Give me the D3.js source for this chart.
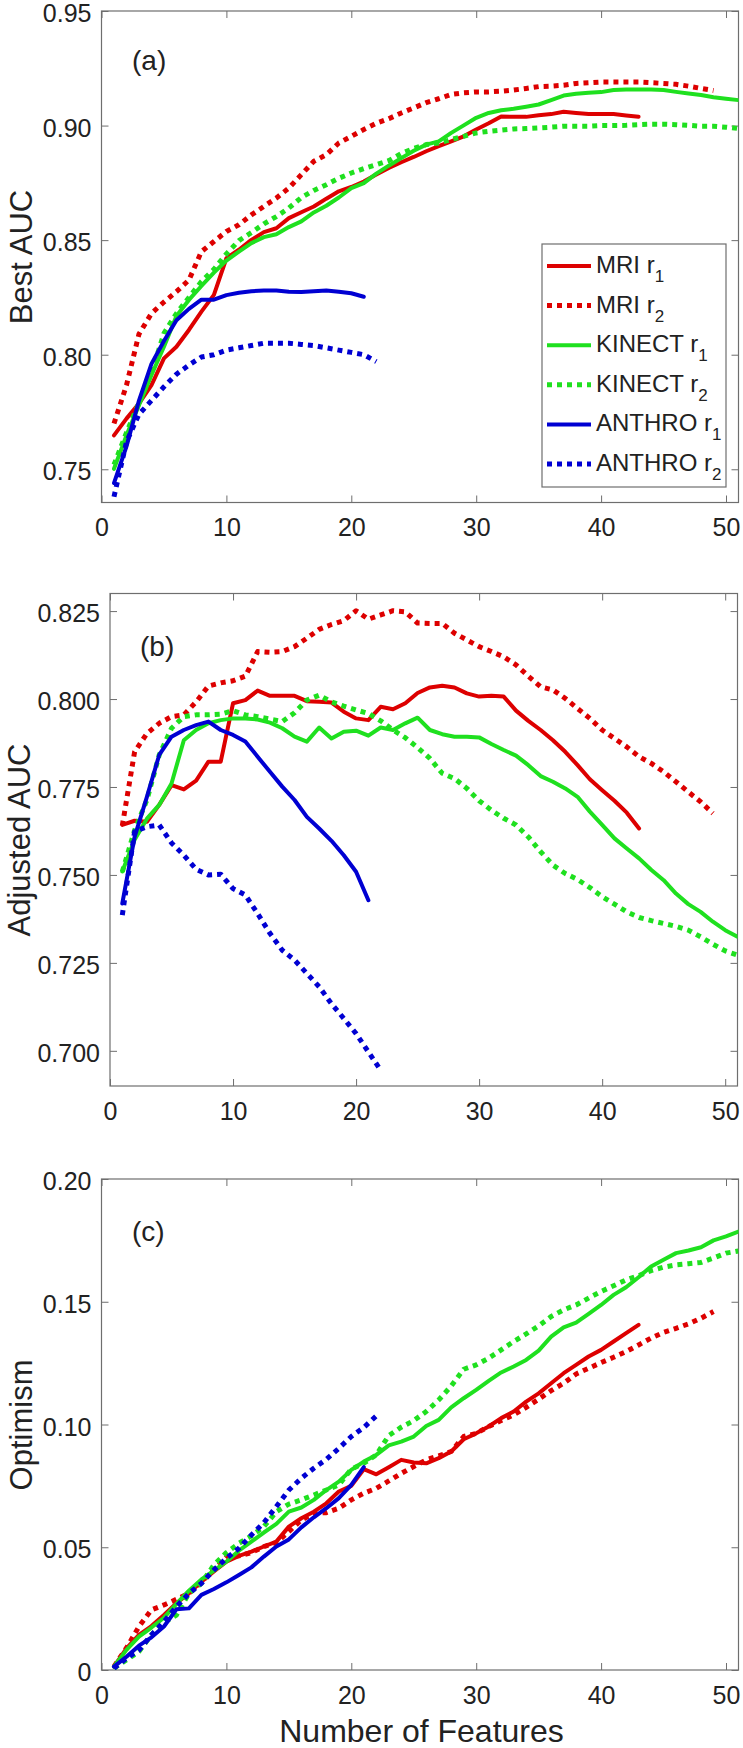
<!DOCTYPE html>
<html><head><meta charset="utf-8">
<script src="https://cdn.jsdelivr.net/npm/d3@7"></script>
<style>
body{margin:0;background:#fff}
text{font-family:"Liberation Sans",Arial,Helvetica,sans-serif;fill:#222}
</style>
</head><body>
<svg id="chart" width="743" height="1748"></svg>
<script>
// ---------- data ----------
const xTicks = [0, 10, 20, 30, 40, 50];
const seriesNames = ["MRI", "MRI", "KINECT", "KINECT", "ANTHRO", "ANTHRO"];
const seriesSubs = ["1", "2", "1", "2", "1", "2"];

// Panel (a): Best AUC
const a_MRI_r1 = [0.7648,0.7721,0.7787,0.7867,0.7984,0.8035,0.8108,0.8188,0.8261,0.8421,0.8458,0.8501,0.8535,0.8552,0.8596,0.8622,0.8647,0.8681,0.8713,0.8732,0.8756,0.8786,0.8815,0.884,0.8863,0.8888,0.891,0.8931,0.8953,0.8983,0.901,0.904,0.9038,0.9038,0.9045,0.905,0.906,0.9055,0.905,0.905,0.905,0.9044,0.9038];
const a_MRI_r2 = [0.770,0.7867,0.809,0.818,0.823,0.8275,0.8326,0.845,0.8494,0.8538,0.8567,0.861,0.8647,0.8684,0.8727,0.8786,0.8844,0.8873,0.8924,0.8953,0.8983,0.901,0.903,0.9055,0.9077,0.910,0.9117,0.9136,0.9143,0.9147,0.9147,0.915,0.9155,0.9162,0.917,0.9172,0.9176,0.9184,0.9187,0.919,0.919,0.919,0.919,0.9187,0.9184,0.918,0.9172,0.9162,0.9153];
const a_KIN_r1 = [0.7502,0.7648,0.778,0.7911,0.8035,0.8169,0.8239,0.830,0.8358,0.8411,0.845,0.8487,0.8513,0.8526,0.8557,0.8582,0.8621,0.865,0.8686,0.8727,0.8749,0.879,0.8825,0.8858,0.889,0.8917,0.8931,0.8968,0.9001,0.9034,0.9055,0.9067,0.9073,0.9082,0.9092,0.9111,0.9131,0.9139,0.9143,0.9146,0.9155,0.9157,0.9157,0.9157,0.9155,0.9147,0.914,0.9133,0.9124,0.9117,0.9111];
const a_KIN_r2 = [0.752,0.766,0.779,0.792,0.8093,0.818,0.825,0.8319,0.8373,0.844,0.8498,0.8533,0.8571,0.8603,0.864,0.8686,0.8717,0.8742,0.877,0.8793,0.8812,0.8829,0.8847,0.8878,0.890,0.8917,0.8924,0.8939,0.8953,0.8968,0.8975,0.898,0.8985,0.8987,0.899,0.8993,0.8997,0.8997,0.8997,0.900,0.900,0.9001,0.9004,0.9006,0.9006,0.9004,0.9001,0.8997,0.8997,0.8993,0.8987];
const a_ANT_r1 = [0.744,0.760,0.780,0.796,0.806,0.815,0.820,0.824,0.824,0.826,0.827,0.8277,0.828,0.828,0.8275,0.8274,0.8277,0.828,0.8275,0.8268,0.8253];
const a_ANT_r2 = [0.738,0.762,0.774,0.780,0.786,0.7915,0.7955,0.799,0.800,0.802,0.803,0.804,0.805,0.805,0.805,0.8045,0.804,0.803,0.802,0.801,0.800,0.797];

// Panel (b): Adjusted AUC
const b_MRI_r1 = [0.7642,0.7654,0.7651,0.7699,0.7755,0.7743,0.7768,0.7822,0.7822,0.7988,0.7997,0.8024,0.8009,0.8009,0.8009,0.7994,0.7992,0.799,0.7964,0.7945,0.794,0.7978,0.7971,0.7988,0.8017,0.8033,0.8038,0.8033,0.8016,0.8007,0.8009,0.8007,0.7967,0.7938,0.7912,0.7883,0.785,0.7812,0.7772,0.7741,0.7711,0.7677,0.7632];
const b_MRI_r2 = [0.764,0.785,0.7902,0.7931,0.795,0.7955,0.7992,0.8037,0.8046,0.8052,0.8065,0.8135,0.8133,0.8135,0.8149,0.8173,0.8198,0.8212,0.8223,0.8251,0.8227,0.8239,0.8251,0.8248,0.8216,0.8215,0.8215,0.8187,0.8168,0.8149,0.8135,0.812,0.8097,0.8065,0.8035,0.8026,0.8002,0.7973,0.7945,0.7912,0.7888,0.7864,0.7836,0.7817,0.7793,0.7765,0.7736,0.7708,0.7675];
const b_KIN_r1 = [0.751,0.760,0.766,0.7699,0.776,0.7883,0.7912,0.7931,0.794,0.7945,0.7945,0.7942,0.7933,0.7917,0.7893,0.7879,0.7919,0.7888,0.7907,0.791,0.7896,0.7919,0.7912,0.7931,0.7947,0.7912,0.79,0.7893,0.7893,0.7891,0.7872,0.7855,0.7839,0.7812,0.7781,0.7765,0.7746,0.7722,0.768,0.7642,0.7604,0.7575,0.7547,0.7514,0.7485,0.7447,0.7417,0.7395,0.7367,0.7343,0.7324];
const b_KIN_r2 = [0.7509,0.7627,0.7713,0.7841,0.7917,0.795,0.7955,0.7955,0.7957,0.7967,0.7955,0.795,0.7943,0.7936,0.7961,0.7997,0.8011,0.7992,0.798,0.7969,0.7959,0.7938,0.7912,0.789,0.7862,0.7831,0.7789,0.7774,0.7746,0.7711,0.7684,0.7661,0.7642,0.7608,0.7566,0.7528,0.7504,0.7487,0.7464,0.7438,0.7417,0.7395,0.7379,0.737,0.7362,0.7354,0.7343,0.7324,0.7303,0.7284,0.7272];
const b_ANT_r1 = [0.7419,0.7608,0.7722,0.7841,0.7893,0.7912,0.7926,0.7936,0.7912,0.7898,0.7879,0.7836,0.7793,0.7751,0.7713,0.7665,0.7632,0.7597,0.7556,0.7509,0.7428];
const b_ANT_r2 = [0.7386,0.7623,0.7637,0.7642,0.7591,0.7556,0.7516,0.750,0.7502,0.7461,0.7443,0.739,0.7334,0.7286,0.7258,0.722,0.7182,0.7134,0.7092,0.7049,0.6997,0.6945];

// Panel (c): Optimism
const c_MRI_r1 = [0.0014,0.0088,0.0143,0.0179,0.0224,0.0272,0.0312,0.036,0.0401,0.0441,0.0465,0.0482,0.0503,0.0523,0.0584,0.0618,0.0645,0.0679,0.0727,0.075,0.0818,0.0797,0.0826,0.0856,0.0845,0.0842,0.0863,0.089,0.094,0.0964,0.0992,0.1026,0.1053,0.1093,0.1127,0.1168,0.1209,0.1243,0.1277,0.1304,0.1338,0.1372,0.1406];
const c_MRI_r2 = [0.0014,0.009,0.0177,0.0245,0.0265,0.0288,0.0312,0.036,0.0408,0.0459,0.0465,0.0478,0.0503,0.0519,0.0564,0.0611,0.0638,0.0641,0.0659,0.0693,0.072,0.074,0.077,0.0801,0.0829,0.0856,0.0872,0.089,0.0951,0.0964,0.0992,0.1016,0.1039,0.107,0.1103,0.1138,0.1168,0.1206,0.1229,0.1252,0.1274,0.1297,0.1324,0.1352,0.1375,0.1392,0.141,0.1433,0.146];
const c_KIN_r1 = [0.0014,0.0082,0.0136,0.0173,0.0213,0.0269,0.0323,0.0369,0.0405,0.0441,0.0486,0.0523,0.056,0.0595,0.0645,0.0662,0.0693,0.0733,0.0767,0.0815,0.0849,0.0876,0.0915,0.093,0.0951,0.0994,0.1019,0.107,0.1107,0.1141,0.1178,0.1212,0.1236,0.1263,0.1301,0.1358,0.1396,0.1415,0.1451,0.1487,0.1528,0.1559,0.16,0.1644,0.1671,0.1698,0.1709,0.1722,0.175,0.1766,0.1786];
const c_KIN_r2 = [0.0007,0.0041,0.0075,0.0143,0.0193,0.0224,0.0312,0.0353,0.0428,0.0478,0.0516,0.0546,0.0584,0.0645,0.0676,0.0693,0.0713,0.0733,0.0754,0.0818,0.0842,0.0876,0.0955,0.0989,0.1016,0.1053,0.11,0.1157,0.1225,0.1243,0.127,0.1304,0.1338,0.1369,0.1402,0.144,0.1467,0.1487,0.1515,0.1542,0.1565,0.1589,0.1606,0.1627,0.1641,0.165,0.1655,0.166,0.1678,0.1698,0.1707];
const c_ANT_r1 = [0.0014,0.0054,0.0099,0.0133,0.0177,0.0247,0.0251,0.0306,0.033,0.0357,0.0387,0.0418,0.0462,0.0503,0.0532,0.0581,0.0622,0.0659,0.07,0.0754,0.0826];
const c_ANT_r2 = [0.0007,0.0048,0.0081,0.0143,0.0197,0.0258,0.0312,0.0353,0.0408,0.0455,0.0496,0.055,0.060,0.0666,0.0733,0.0781,0.0822,0.0858,0.0903,0.0951,0.0988,0.1035];

const aTicks = [0.75, 0.80, 0.85, 0.90, 0.95];
const aTickLabels = ["0.75", "0.80", "0.85", "0.90", "0.95"];
const bTicks = [0.700, 0.725, 0.750, 0.775, 0.800, 0.825];
const bTickLabels = ["0.700", "0.725", "0.750", "0.775", "0.800", "0.825"];
const cTicks = [0, 0.05, 0.10, 0.15, 0.20];
const cTickLabels = ["0", "0.05", "0.10", "0.15", "0.20"];

// ---------- styling ----------
const colors = ["#dd0000", "#dd0000", "#1fe01f", "#1fe01f", "#0000d2", "#0000d2"];
const dotted = [false, true, false, true, false, true];

const panels = [
  {id:"a", series:[a_MRI_r1,a_MRI_r2,a_KIN_r1,a_KIN_r2,a_ANT_r1,a_ANT_r2],
   x0:101.5, x1:738.5, top:11, bottom:502.5, dom:[0.7355,0.95],
   ticks:aTicks, tickLabels:aTickLabels, ylabel:"Best AUC", ylx:32, yly:257,
   tag:"(a)", tagx:132, tagy:70, legend:true},
  {id:"b", series:[b_MRI_r1,b_MRI_r2,b_KIN_r1,b_KIN_r2,b_ANT_r1,b_ANT_r2],
   x0:110, x1:737.5, top:593.5, bottom:1086, dom:[0.69,0.83],
   ticks:bTicks, tickLabels:bTickLabels, ylabel:"Adjusted AUC", ylx:30, yly:840,
   tag:"(b)", tagx:140, tagy:656},
  {id:"c", series:[c_MRI_r1,c_MRI_r2,c_KIN_r1,c_KIN_r2,c_ANT_r1,c_ANT_r2],
   x0:101.5, x1:738.5, top:1179, bottom:1670, dom:[0,0.2],
   ticks:cTicks, tickLabels:cTickLabels, ylabel:"Optimism", ylx:32, yly:1425,
   tag:"(c)", tagx:132, tagy:1241, xlabel:"Number of Features"}
];

const svg = d3.select("#chart");
const axisColor = "#6e6e6e";

panels.forEach(p => {
  const x = d3.scaleLinear().domain([0, 51]).range([p.x0, p.x1]);
  const y = d3.scaleLinear().domain(p.dom).range([p.bottom, p.top]);
  const g = svg.append("g");

  g.append("clipPath").attr("id", "clip-" + p.id)
    .append("rect").attr("x", p.x0).attr("y", p.top)
    .attr("width", p.x1 - p.x0).attr("height", p.bottom - p.top);

  // axes
  const styleAxis = sel => {
    sel.select(".domain").remove();
    sel.selectAll(".tick line").attr("stroke", axisColor).attr("stroke-width", 1);
    sel.selectAll(".tick text").attr("fill", "#222").style("font-size", "25px")
      .style("font-family", '"Liberation Sans",Arial,sans-serif');
  };
  g.append("g").attr("transform", `translate(0,${p.bottom})`)
    .call(d3.axisBottom(x).tickValues(xTicks).tickSize(-7).tickPadding(16).tickFormat(d3.format("d")))
    .call(styleAxis);
  g.append("g").attr("transform", `translate(0,${p.top})`)
    .call(d3.axisTop(x).tickValues(xTicks).tickSize(-7).tickFormat(""))
    .call(styleAxis);
  g.append("g").attr("transform", `translate(${p.x0},0)`)
    .call(d3.axisLeft(y).tickValues(p.ticks).tickSize(-7).tickPadding(10)
      .tickFormat((d, i) => p.tickLabels[i]))
    .call(styleAxis)
    .call(sel => sel.selectAll(".tick text").attr("dy", "0.42em"));
  g.append("g").attr("transform", `translate(${p.x1},0)`)
    .call(d3.axisRight(y).tickValues(p.ticks).tickSize(-7).tickFormat(""))
    .call(styleAxis);

  g.append("rect").attr("x", p.x0).attr("y", p.top)
    .attr("width", p.x1 - p.x0).attr("height", p.bottom - p.top)
    .attr("fill", "none").attr("stroke", axisColor).attr("stroke-width", 1.2);

  // lines
  const line = d3.line().x((d, i) => x(i + 1)).y(d => y(d));
  const lg = g.append("g").attr("clip-path", `url(#clip-${p.id})`);
  p.series.forEach((s, k) => {
    lg.append("path").datum(s).attr("d", line)
      .attr("fill", "none").attr("stroke", colors[k])
      .attr("stroke-width", dotted[k] ? 5 : 4)
      .attr("stroke-linejoin", "round")
      .attr("stroke-linecap", dotted[k] ? "butt" : "round")
      .attr("stroke-dasharray", dotted[k] ? "5,5" : null);
  });

  // labels
  g.append("text").attr("transform", `translate(${p.ylx},${p.yly}) rotate(-90)`)
    .attr("text-anchor", "middle").style("font-size", "31px").text(p.ylabel);
  g.append("text").attr("x", p.tagx).attr("y", p.tagy)
    .style("font-size", "28px").text(p.tag);
  if (p.xlabel) {
    g.append("text").attr("x", 421.5).attr("y", 1742)
      .attr("text-anchor", "middle").style("font-size", "32px").text(p.xlabel);
  }

  if (p.legend) {
    const lgX = 542, lgY = 244, lgW = 184, lgH = 243;
    const leg = g.append("g");
    leg.append("rect").attr("x", lgX).attr("y", lgY).attr("width", lgW).attr("height", lgH)
      .attr("fill", "#fff").attr("stroke", axisColor).attr("stroke-width", 1.2);
    seriesNames.forEach((name, k) => {
      const ry = 266 + k * 39.6;
      leg.append("line").attr("x1", 547).attr("x2", 591).attr("y1", ry).attr("y2", ry)
        .attr("stroke", colors[k]).attr("stroke-width", dotted[k] ? 5 : 4)
        .attr("stroke-dasharray", dotted[k] ? "5,5" : null);
      const t = leg.append("text").attr("x", 596).attr("y", ry + 7).style("font-size", "24px");
      t.append("tspan").text(name + " r");
      t.append("tspan").attr("dy", 9).style("font-size", "17px").text(seriesSubs[k]);
    });
  }
});
</script>
</body></html>
